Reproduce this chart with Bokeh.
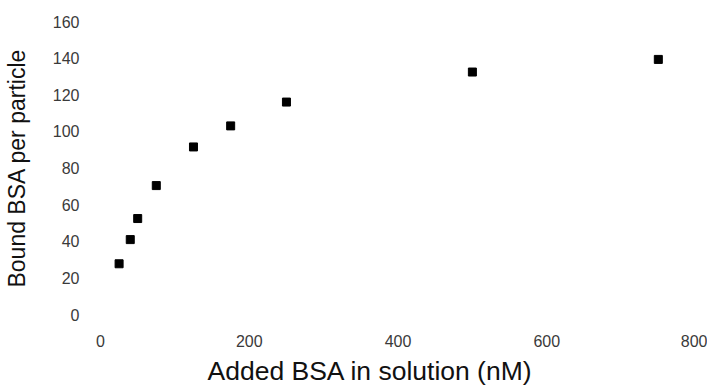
from bokeh.plotting import figure
from bokeh.models import Range1d, FixedTicker, Title
from bokeh.embed import file_html
from bokeh.resources import INLINE

added_bsa = [25, 40, 50, 75, 125, 175, 250, 500, 750]
bound_bsa = [27.7, 40.9, 52.4, 70.4, 91.5, 103, 116, 132.4, 139.3]
x_ticks = [0, 200, 400, 600, 800]
y_ticks = [0, 20, 40, 60, 80, 100, 120, 140, 160]

p = figure(frame_width=595, frame_height=293, output_backend="svg", toolbar_location=None,
           x_range=Range1d(0, 800), y_range=Range1d(0, 160),
           min_border_left=92, min_border_top=21, min_border_right=12, min_border_bottom=0)
p.outline_line_color = None
p.xgrid.grid_line_color = None
p.ygrid.grid_line_color = None

p.scatter(added_bsa, bound_bsa, marker="square", size=8, color="black")

for ax in (p.xaxis[0], p.yaxis[0]):
    ax.axis_line_color = None
    ax.major_tick_line_color = None
    ax.minor_tick_line_color = None
    ax.major_label_text_font = "Liberation Sans"
    ax.major_label_text_font_size = "16px"
    ax.major_label_text_color = "#3a3a3a"
    ax.axis_label_text_font = "Liberation Sans"
    ax.axis_label_text_font_style = "normal"
    ax.axis_label_text_color = "#111111"

p.xaxis.ticker = FixedTicker(ticks=x_ticks)
p.yaxis.ticker = FixedTicker(ticks=y_ticks)
p.yaxis.axis_label = "Bound BSA per particle"
p.yaxis.axis_label_text_font_size = "23px"
p.xaxis.major_label_standoff = 14
p.yaxis.major_label_standoff = 15
p.yaxis.axis_label_standoff = 20

xtitle = Title(text="Added BSA in solution (nM)", align="left", offset=107,
               text_font="Liberation Sans", text_font_size="26.5px", text_font_style="normal",
               text_color="#111111", standoff=8)
p.add_layout(xtitle, "below")

open("out.html", "w").write(file_html(p, INLINE))
